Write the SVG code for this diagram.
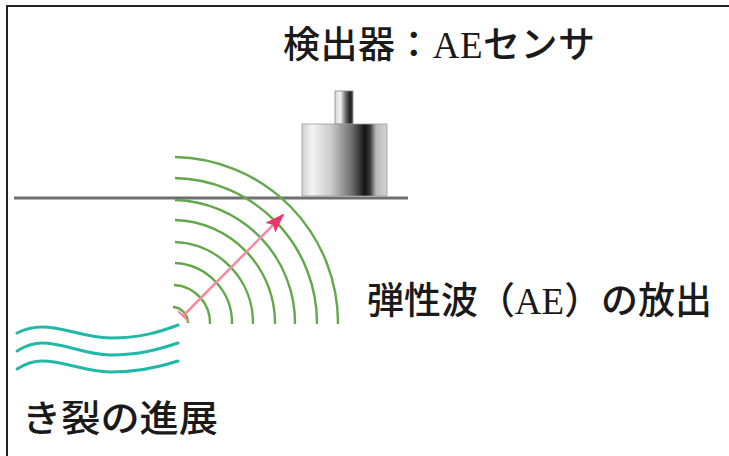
<svg xmlns="http://www.w3.org/2000/svg" width="729" height="456" viewBox="0 0 729 456">
  <style>
    .jp { font-family: "Noto Sans CJK JP", "Noto Sans", sans-serif; font-weight: 500; fill: #1a1a1a; }
    .lat { font-family: "Liberation Serif", serif; fill: #1a1a1a; }
    .wave { fill: none; stroke: #62a84a; stroke-width: 2.4; }
    .crack { fill: none; stroke: #22b8a8; stroke-width: 3; stroke-linecap: round; }
  </style>
  <defs>
    <linearGradient id="bodyGrad" x1="0" y1="0" x2="1" y2="0">
      <stop offset="0" stop-color="#d0d0d0"/>
      <stop offset="0.12" stop-color="#f4f4f4"/>
      <stop offset="0.35" stop-color="#c8c8c8"/>
      <stop offset="0.58" stop-color="#707070"/>
      <stop offset="0.74" stop-color="#141414"/>
      <stop offset="0.8" stop-color="#383838"/>
      <stop offset="0.87" stop-color="#b8b8b8"/>
      <stop offset="1" stop-color="#d4d4d4"/>
    </linearGradient>
    <linearGradient id="stemGrad" x1="0" y1="0" x2="1" y2="0">
      <stop offset="0" stop-color="#d8d8d8"/>
      <stop offset="0.3" stop-color="#f2f2f2"/>
      <stop offset="0.6" stop-color="#6a6a6a"/>
      <stop offset="0.85" stop-color="#1c1c1c"/>
      <stop offset="1" stop-color="#555555"/>
    </linearGradient>
    <marker id="arrowHead" viewBox="0 0 20 14" refX="18" refY="7" markerWidth="20" markerHeight="14" orient="auto" markerUnits="userSpaceOnUse">
      <path d="M0,0 L20,7 L0,14 L4,7 Z" fill="#e8386a"/>
    </marker>
  </defs>

  <rect width="729" height="456" fill="#ffffff"/>

  <!-- frame -->
  <path d="M7,456 V6 H729" fill="none" stroke="#222" stroke-width="2"/>

  <!-- plate surface -->
  <g id="plate">
    <line x1="14" y1="198" x2="408" y2="198" stroke="#6e6e6e" stroke-width="3"/>
  </g>

  <!-- AE sensor -->
  <g id="sensor">
    <rect x="335" y="91" width="18" height="33" fill="url(#stemGrad)" stroke="#888" stroke-width="0.8"/>
    <rect x="302" y="124" width="85" height="72" fill="url(#bodyGrad)" stroke="#999" stroke-width="0.8"/>
  </g>

  <!-- elastic wavefronts -->
  <g id="wavefronts">
    <path class="wave" d="M173,307 A16,16 0 0 1 188,323"/>
    <path class="wave" d="M174,285 A38,38 0 0 1 210,324"/>
    <path class="wave" d="M175,263 A60,60 0 0 1 232,324"/>
    <path class="wave" d="M175,242 A81,81 0 0 1 253,324"/>
    <path class="wave" d="M175,220 A103,103 0 0 1 275,324"/>
    <path class="wave" d="M175,200 A123,123 0 0 1 295,324"/>
    <path class="wave" d="M175,178 A145,145 0 0 1 317,324"/>
    <path class="wave" d="M175,157 A166,166 0 0 1 338,324"/>
  </g>

  <!-- crack -->
  <g id="crack">
    <path class="crack" d="M17,333 C25,329 32,327 42,327 C65,327 85,338 110,338 C140,338 160,332 178,325"/>
    <path class="crack" d="M17,351 C25,346 32,343 42,343 C65,343 85,355 110,355 C140,355 160,349 178,343"/>
    <path class="crack" d="M17,369 C25,364 32,361 42,361 C65,361 85,372 110,372 C140,372 160,367 178,361"/>
  </g>

  <!-- propagation arrow -->
  <g id="connectors">
    <line x1="183" y1="316" x2="283" y2="215" stroke="#f38aa0" stroke-width="2.5" marker-end="url(#arrowHead)"/>
    <line x1="178" y1="311" x2="188" y2="321" stroke="#f38aa0" stroke-width="2"/>
  </g>

  <!-- labels -->
  <g id="label-sensor">
    <text x="283" y="58" font-size="37" textLength="312" lengthAdjust="spacing"><tspan class="jp">検出器：</tspan><tspan class="lat">AE</tspan><tspan class="jp">センサ</tspan></text>
  </g>
  <g id="label-wave">
    <text x="367" y="314" font-size="37" textLength="345" lengthAdjust="spacingAndGlyphs"><tspan class="jp">弾性波（</tspan><tspan class="lat">AE</tspan><tspan class="jp">）の放出</tspan></text>
  </g>
  <g id="label-crack">
    <text class="jp" x="22" y="432" font-size="37" textLength="196" lengthAdjust="spacingAndGlyphs">き裂の進展</text>
  </g>
</svg>
